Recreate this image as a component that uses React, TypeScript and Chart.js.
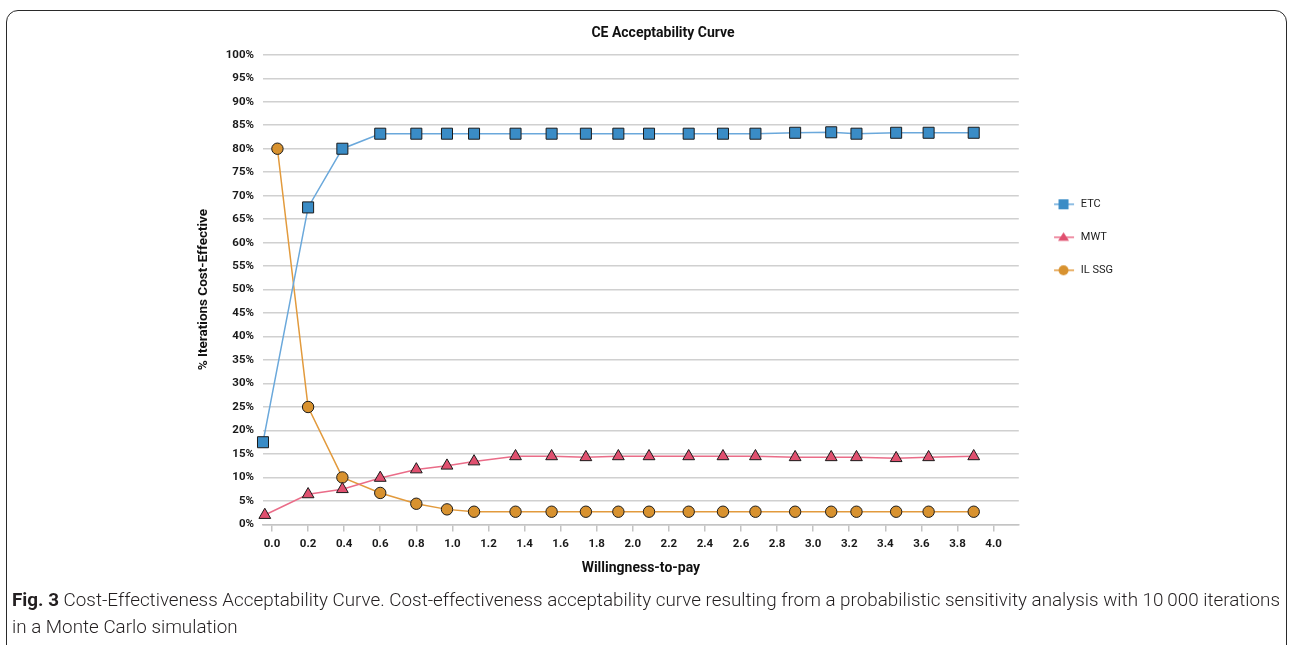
import React, { useEffect, useRef } from 'react';
import { Chart, registerables } from 'chart.js';

Chart.register(...registerables);

const chartTitle = 'CE Acceptability Curve';
const xAxisTitle = 'Willingness-to-pay';
const yAxisTitle = '% Iterations Cost-Effective';
const seriesNames = ['ETC', 'MWT', 'IL SSG'];

const etcX = [-0.05, 0.2, 0.39, 0.6, 0.8, 0.97, 1.12, 1.35, 1.55, 1.74, 1.92, 2.09, 2.31, 2.5, 2.68, 2.9, 3.1, 3.24, 3.46, 3.64, 3.89];
const etcY = [17.5, 67.5, 80, 83.2, 83.2, 83.2, 83.2, 83.2, 83.2, 83.2, 83.2, 83.2, 83.2, 83.2, 83.2, 83.4, 83.5, 83.2, 83.4, 83.4, 83.4];

const mwtX = [-0.04, 0.2, 0.39, 0.6, 0.8, 0.97, 1.12, 1.35, 1.55, 1.74, 1.92, 2.09, 2.31, 2.5, 2.68, 2.9, 3.1, 3.24, 3.46, 3.64, 3.89];
const mwtY = [2.0, 6.4, 7.5, 9.9, 11.7, 12.5, 13.4, 14.5, 14.5, 14.3, 14.5, 14.5, 14.5, 14.5, 14.5, 14.3, 14.3, 14.3, 14.1, 14.3, 14.5];

const ilX = [0.03, 0.2, 0.39, 0.6, 0.8, 0.97, 1.12, 1.35, 1.55, 1.74, 1.92, 2.09, 2.31, 2.5, 2.68, 2.9, 3.1, 3.24, 3.46, 3.64, 3.89];
const ilY = [80, 25, 10, 6.7, 4.4, 3.2, 2.7, 2.7, 2.7, 2.7, 2.7, 2.7, 2.7, 2.7, 2.7, 2.7, 2.7, 2.7, 2.7, 2.7, 2.7];

const xMin = -0.05;
const xMax = 4.14;
const xStep = 0.2;
const yMin = 0;
const yMax = 100;
const yStep = 5;

const captionBold = 'Fig. 3';
const captionText =
  ' Cost-Effectiveness Acceptability Curve. Cost-effectiveness acceptability curve resulting from a probabilistic sensitivity analysis with 10\u2009000 iterations';
const captionText2 = 'in a Monte Carlo simulation';

const FONT = "Roboto, 'Liberation Sans', sans-serif";

const colors = {
  etcLine: '#6aa8db',
  etcFill: '#3a8cc6',
  mwtLine: '#ea6c88',
  mwtFill: '#e0506f',
  ilLine: '#e29a3c',
  ilFill: '#d8922f',
  border: '#1b1b1b',
};

function makeLegendIcon(shape: string, lineColor: string, fill: string): HTMLCanvasElement {
  const c = document.createElement('canvas');
  c.width = 50;
  c.height = 16;
  const ctx = c.getContext('2d')!;
  ctx.strokeStyle = lineColor;
  ctx.lineWidth = 1.5;
  ctx.beginPath();
  ctx.moveTo(21, 8);
  ctx.lineTo(41, 8);
  ctx.stroke();
  ctx.fillStyle = fill;
  const cx = 30.5;
  const cy = 8;
  ctx.beginPath();
  if (shape === 'rect') {
    ctx.rect(cx - 5, cy - 5, 10, 10);
  } else if (shape === 'triangle') {
    ctx.moveTo(cx, cy - 5);
    ctx.lineTo(cx + 5.5, cy + 3.5);
    ctx.lineTo(cx - 5.5, cy + 3.5);
    ctx.closePath();
  } else {
    ctx.arc(cx, cy, 5, 0, Math.PI * 2);
  }
  ctx.fill();
  return c;
}

function toPoints(xs: number[], ys: number[]) {
  return xs.map((x, i) => ({ x, y: ys[i] }));
}

export default function App() {
  const canvasRef = useRef<HTMLCanvasElement | null>(null);
  const captionRef = useRef<HTMLDivElement | null>(null);
  const line1Ref = useRef<HTMLSpanElement | null>(null);

  useEffect(() => {
    if (captionRef.current && line1Ref.current) {
      const w = line1Ref.current.getBoundingClientRect().width;
      if (w > 0) {
        captionRef.current.style.transform = `scaleX(${1268 / w})`;
      }
    }
    if (!canvasRef.current) return;
    const icons = [
      makeLegendIcon('rect', colors.etcLine, colors.etcFill),
      makeLegendIcon('triangle', colors.mwtLine, colors.mwtFill),
      makeLegendIcon('circle', colors.ilLine, colors.ilFill),
    ];
    const chart = new Chart(canvasRef.current, {
      type: 'line',
      data: {
        datasets: [
          {
            label: seriesNames[0],
            data: toPoints(etcX, etcY),
            borderColor: colors.etcLine,
            backgroundColor: colors.etcFill,
            borderWidth: 1.5,
            pointStyle: 'rect',
            pointRadius: 7.8,
            pointBackgroundColor: colors.etcFill,
            pointBorderColor: colors.border,
            pointBorderWidth: 1,
            tension: 0,
            clip: false,
          },
          {
            label: seriesNames[1],
            data: toPoints(mwtX, mwtY),
            borderColor: colors.mwtLine,
            backgroundColor: colors.mwtFill,
            borderWidth: 1.5,
            pointStyle: 'triangle',
            pointRadius: 6.8,
            pointBackgroundColor: colors.mwtFill,
            pointBorderColor: colors.border,
            pointBorderWidth: 1,
            tension: 0,
            clip: false,
          },
          {
            label: seriesNames[2],
            data: toPoints(ilX, ilY),
            borderColor: colors.ilLine,
            backgroundColor: colors.ilFill,
            borderWidth: 1.5,
            pointStyle: 'circle',
            pointRadius: 5.7,
            pointBackgroundColor: colors.ilFill,
            pointBorderColor: colors.border,
            pointBorderWidth: 1,
            tension: 0,
            clip: false,
          },
        ],
      },
      options: {
        animation: false,
        responsive: false,
        devicePixelRatio: 1,
        layout: { padding: { left: 203, right: 169, top: 0, bottom: 64 } },
        plugins: {
          tooltip: { enabled: false },
          title: {
            display: true,
            text: chartTitle,
            color: '#111',
            font: { family: FONT, size: 14, weight: 'bold' },
            padding: { top: 25, bottom: 13 },
          },
          legend: {
            display: true,
            position: 'right',
            align: 'start',
            fullSize: false,
            title: { display: true, text: '', font: { size: 10 }, padding: { top: 110, bottom: 0 } },
            labels: {
              usePointStyle: true,
              pointStyleWidth: 34.5,
              padding: 22,
              color: '#222',
              font: { family: FONT, size: 11 },
              generateLabels: (ch: any) => {
                const base = Chart.defaults.plugins.legend.labels.generateLabels(ch);
                return base.map((item: any, i: number) => ({ ...item, pointStyle: icons[i] }));
              },
            },
          },
        },
        scales: {
          x: {
            type: 'linear',
            min: xMin,
            max: xMax,
            ticks: {
              stepSize: xStep,
              includeBounds: false,
              autoSkip: false,
              maxRotation: 0,
              padding: 5.5,
              color: '#1a1a1a',
              font: { family: FONT, size: 11.5, weight: 'bold' },
              callback: (v: any) => Number(v).toFixed(1),
            },
            grid: {
              display: true,
              drawOnChartArea: false,
              drawTicks: true,
              tickLength: 7,
              color: '#c4c4c4',
              lineWidth: 1.5,
            },
            border: { display: true, color: '#c4c4c4', width: 1.5 },
            title: {
              display: true,
              text: xAxisTitle,
              color: '#111',
              font: { family: FONT, size: 14, weight: 'bold' },
              padding: { top: 4, bottom: 4 },
            },
          },
          y: {
            type: 'linear',
            min: yMin,
            max: yMax,
            afterFit: (scale: any) => {
              scale.width = 60;
            },
            ticks: {
              stepSize: yStep,
              padding: 9,
              color: '#1a1a1a',
              font: { family: FONT, size: 11.5, weight: 'bold' },
              callback: (v: any) => `${v}%`,
            },
            grid: { color: '#d0d0d0', lineWidth: 1.5, drawTicks: false },
            border: { display: false },
            title: {
              display: true,
              text: yAxisTitle,
              color: '#111',
              font: { family: FONT, size: 13.5, weight: 'bold' },
              padding: { top: -7, bottom: 0 },
            },
          },
        },
      },
    } as any);
    return () => chart.destroy();
  }, []);

  return (
    <div style={{ position: 'absolute', left: 0, top: 0, width: 1292, height: 645, overflow: 'hidden', background: '#fff' }}>
      <div
        style={{
          position: 'absolute',
          left: 6,
          top: 10,
          width: 1281,
          height: 700,
          border: '1.5px solid #2a2a2a',
          borderRadius: 12,
          boxSizing: 'border-box',
        }}
      />
      <canvas ref={canvasRef} width={1292} height={645} style={{ position: 'absolute', left: 0, top: 0 }} />
      <div
        ref={captionRef}
        style={{
          position: 'absolute',
          left: 12,
          top: 587,
          fontFamily: FONT,
          fontSize: 18.5,
          fontWeight: 300,
          lineHeight: '27px',
          color: '#231f20',
          whiteSpace: 'nowrap',
          transformOrigin: '0 0',
        }}
      >
        <span ref={line1Ref}>
          <b style={{ fontWeight: 700 }}>{captionBold}</b>
          {captionText}
        </span>
        <br />
        <span>{captionText2}</span>
      </div>
    </div>
  );
}
